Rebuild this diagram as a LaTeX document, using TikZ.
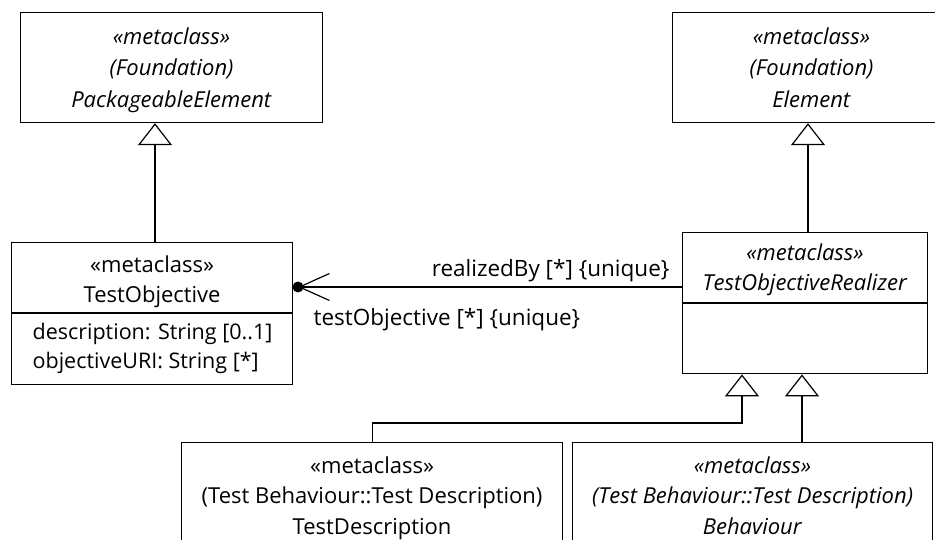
\documentclass[tikz,border=0pt]{standalone}
\usepackage{fontspec}
\setmainfont{Open Sans}
\newfontfamily\rolefont{Open Sans}
\usepackage{tikz}
\usetikzlibrary{arrows.meta}

\tikzset{
  umlbox/.style={draw=black, fill=white, anchor=north west, inner sep=0pt},
  umltext/.style={anchor=north, inner sep=0pt, align=center, font=\fontsize{22}{30.5}\selectfont},
  toptext/.style={umltext, font=\fontsize{22}{31.5}\selectfont},
  attrtext/.style={anchor=north west, inner sep=0pt, align=left, font=\fontsize{21.5}{29}\selectfont},
  roletext/.style={inner sep=0pt, font=\rolefont\fontsize{22.5}{24}\selectfont},
  gen/.style={-{Triangle[open, length=22pt, width=34pt, fill=white]}},
  assoc/.style={-{Straight Barb[length=30pt, width=27pt, line width=1.2pt]}}
}

\begin{document}
\begin{tikzpicture}[x=1pt, y=-1pt, line width=1.2pt]
   \useasboundingbox (0,0) rectangle (935,540);
   \clip (0,0) rectangle (935,540);

   % parents
   \node[umlbox, minimum width=302pt, minimum height=110pt] (pe) at (20,12) {};
   \node[toptext] (pe-t) at ([yshift=-15pt]pe.north) {\textit{«metaclass»}\\\textit{(Foundation)}\\\textit{PackageableElement}};

   \node[umlbox, minimum width=272pt, minimum height=110pt] (el) at (672,12) {};
   \node[toptext] (el-t) at ([xshift=3pt, yshift=-15pt]el.north) {\textit{«metaclass»}\\\textit{(Foundation)}\\\textit{Element}};

   % test objective
   \node[umlbox, minimum width=281pt, minimum height=70pt] (tobj) at (11,242) {};
   \node[umlbox, minimum width=281pt, minimum height=71pt, anchor=north] (tobj-a) at (tobj.south) {};
   \node[umltext] (tobj-t) at ([yshift=-13pt]tobj.north) {«metaclass»\\TestObjective};
   \node[attrtext] (tobj-at) at ([xshift=21pt, yshift=-9pt]tobj-a.north west) {description: String [0..1]\\objectiveURI: String [*]};

   % realizer
   \node[umlbox, minimum width=245pt, minimum height=70pt] (tor) at (682,232) {};
   \node[umlbox, minimum width=245pt, minimum height=70pt, anchor=north] (tor-a) at (tor.south) {};
   \node[umltext] (tor-t) at ([yshift=-11pt]tor.north) {\textit{«metaclass»}\\\textit{TestObjectiveRealizer}};

   % children
   \node[umlbox, minimum width=381pt, minimum height=130pt] (td) at (181,442) {};
   \node[umltext] (td-t) at ([yshift=-14pt]td.north) {«metaclass»\\(Test Behaviour::Test Description)\\TestDescription};

   \node[umlbox, minimum width=360pt, minimum height=130pt] (bh) at (572,442) {};
   \node[umltext] (bh-t) at ([yshift=-14pt]bh.north) {\textit{«metaclass»}\\\textit{(Test Behaviour::Test Description)}\\\textit{Behaviour}};

   % generalizations
   \coordinate (g1) at (155,242);
   \coordinate (g2) at (808,232);
   \coordinate (g3) at (742,423);
   \coordinate (g4) at (802,442);
   \draw[gen] (g1) -- (g1 |- pe.south);
   \draw[gen] (g2) -- (g2 |- el.south);
   \draw[gen] (td.north) |- (g3) -- (g3 |- tor-a.south);
   \draw[gen] (g4) -- (g4 |- tor-a.south);

   % association
   \coordinate (ay) at (0,287);
   \coordinate (dot) at (298,287);
   \draw[assoc] (tor.west |- ay) -- (dot);
   \fill (dot) circle (5.5pt);
   \node[roletext, anchor=base east] (r1) at (670,277) {realizedBy [*] \{unique\}};
   \node[roletext, anchor=base west] (r2) at (313,325) {testObjective [*] \{unique\}};
\end{tikzpicture}
\end{document}
